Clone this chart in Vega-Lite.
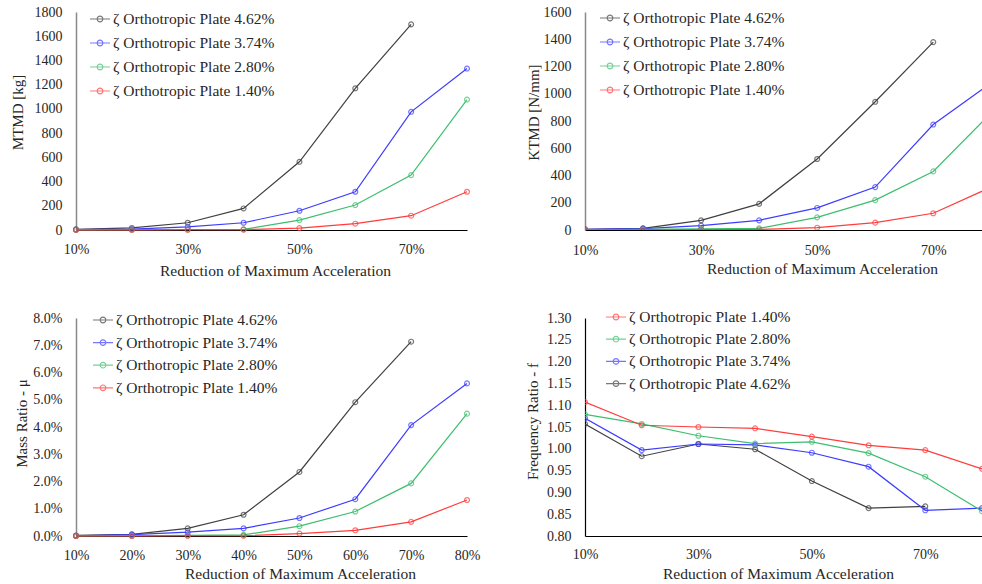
{
  "$schema": "https://vega.github.io/schema/vega-lite/v6.json",
  "padding": {"left": 10, "top": 5, "right": 0, "bottom": 0},
  "background": "white",
  "datasets": {
    "m": [
      {"x": 10, "s": "ζ Orthotropic Plate 4.62%", "v": 5}, {"x": 20, "s": "ζ Orthotropic Plate 4.62%", "v": 17}, {"x": 30, "s": "ζ Orthotropic Plate 4.62%", "v": 60}, {"x": 40, "s": "ζ Orthotropic Plate 4.62%", "v": 178}, {"x": 50, "s": "ζ Orthotropic Plate 4.62%", "v": 563}, {"x": 60, "s": "ζ Orthotropic Plate 4.62%", "v": 1170}, {"x": 70, "s": "ζ Orthotropic Plate 4.62%", "v": 1698},
      {"x": 10, "s": "ζ Orthotropic Plate 3.74%", "v": 3}, {"x": 20, "s": "ζ Orthotropic Plate 3.74%", "v": 8}, {"x": 30, "s": "ζ Orthotropic Plate 3.74%", "v": 25}, {"x": 40, "s": "ζ Orthotropic Plate 3.74%", "v": 60}, {"x": 50, "s": "ζ Orthotropic Plate 3.74%", "v": 159}, {"x": 60, "s": "ζ Orthotropic Plate 3.74%", "v": 316}, {"x": 70, "s": "ζ Orthotropic Plate 3.74%", "v": 976}, {"x": 80, "s": "ζ Orthotropic Plate 3.74%", "v": 1333},
      {"x": 10, "s": "ζ Orthotropic Plate 2.80%", "v": 1}, {"x": 20, "s": "ζ Orthotropic Plate 2.80%", "v": 2}, {"x": 30, "s": "ζ Orthotropic Plate 2.80%", "v": 4}, {"x": 40, "s": "ζ Orthotropic Plate 2.80%", "v": 5}, {"x": 50, "s": "ζ Orthotropic Plate 2.80%", "v": 82}, {"x": 60, "s": "ζ Orthotropic Plate 2.80%", "v": 206}, {"x": 70, "s": "ζ Orthotropic Plate 2.80%", "v": 453}, {"x": 80, "s": "ζ Orthotropic Plate 2.80%", "v": 1077},
      {"x": 10, "s": "ζ Orthotropic Plate 1.40%", "v": 0.5}, {"x": 20, "s": "ζ Orthotropic Plate 1.40%", "v": 1}, {"x": 30, "s": "ζ Orthotropic Plate 1.40%", "v": 2}, {"x": 40, "s": "ζ Orthotropic Plate 1.40%", "v": 3}, {"x": 50, "s": "ζ Orthotropic Plate 1.40%", "v": 16}, {"x": 60, "s": "ζ Orthotropic Plate 1.40%", "v": 52}, {"x": 70, "s": "ζ Orthotropic Plate 1.40%", "v": 118}, {"x": 80, "s": "ζ Orthotropic Plate 1.40%", "v": 316}
    ],
    "k": [
      {"x": 10, "s": "ζ Orthotropic Plate 4.62%", "v": 5}, {"x": 20, "s": "ζ Orthotropic Plate 4.62%", "v": 12}, {"x": 30, "s": "ζ Orthotropic Plate 4.62%", "v": 71}, {"x": 40, "s": "ζ Orthotropic Plate 4.62%", "v": 192}, {"x": 50, "s": "ζ Orthotropic Plate 4.62%", "v": 521}, {"x": 60, "s": "ζ Orthotropic Plate 4.62%", "v": 941}, {"x": 70, "s": "ζ Orthotropic Plate 4.62%", "v": 1379},
      {"x": 10, "s": "ζ Orthotropic Plate 3.74%", "v": 5}, {"x": 20, "s": "ζ Orthotropic Plate 3.74%", "v": 10}, {"x": 30, "s": "ζ Orthotropic Plate 3.74%", "v": 32}, {"x": 40, "s": "ζ Orthotropic Plate 3.74%", "v": 71}, {"x": 50, "s": "ζ Orthotropic Plate 3.74%", "v": 162}, {"x": 60, "s": "ζ Orthotropic Plate 3.74%", "v": 315}, {"x": 70, "s": "ζ Orthotropic Plate 3.74%", "v": 774}, {"x": 80, "s": "ζ Orthotropic Plate 3.74%", "v": 1080},
      {"x": 10, "s": "ζ Orthotropic Plate 2.80%", "v": 2}, {"x": 20, "s": "ζ Orthotropic Plate 2.80%", "v": 4}, {"x": 30, "s": "ζ Orthotropic Plate 2.80%", "v": 8}, {"x": 40, "s": "ζ Orthotropic Plate 2.80%", "v": 12}, {"x": 50, "s": "ζ Orthotropic Plate 2.80%", "v": 93}, {"x": 60, "s": "ζ Orthotropic Plate 2.80%", "v": 219}, {"x": 70, "s": "ζ Orthotropic Plate 2.80%", "v": 430}, {"x": 80, "s": "ζ Orthotropic Plate 2.80%", "v": 860},
      {"x": 10, "s": "ζ Orthotropic Plate 1.40%", "v": 0}, {"x": 20, "s": "ζ Orthotropic Plate 1.40%", "v": 2}, {"x": 30, "s": "ζ Orthotropic Plate 1.40%", "v": 3}, {"x": 40, "s": "ζ Orthotropic Plate 1.40%", "v": 4}, {"x": 50, "s": "ζ Orthotropic Plate 1.40%", "v": 17}, {"x": 60, "s": "ζ Orthotropic Plate 1.40%", "v": 54}, {"x": 70, "s": "ζ Orthotropic Plate 1.40%", "v": 123}, {"x": 80, "s": "ζ Orthotropic Plate 1.40%", "v": 315}
    ],
    "mu": [
      {"x": 10, "s": "ζ Orthotropic Plate 4.62%", "v": 0.02}, {"x": 20, "s": "ζ Orthotropic Plate 4.62%", "v": 0.06}, {"x": 30, "s": "ζ Orthotropic Plate 4.62%", "v": 0.28}, {"x": 40, "s": "ζ Orthotropic Plate 4.62%", "v": 0.78}, {"x": 50, "s": "ζ Orthotropic Plate 4.62%", "v": 2.35}, {"x": 60, "s": "ζ Orthotropic Plate 4.62%", "v": 4.91}, {"x": 70, "s": "ζ Orthotropic Plate 4.62%", "v": 7.13},
      {"x": 10, "s": "ζ Orthotropic Plate 3.74%", "v": 0.01}, {"x": 20, "s": "ζ Orthotropic Plate 3.74%", "v": 0.05}, {"x": 30, "s": "ζ Orthotropic Plate 3.74%", "v": 0.14}, {"x": 40, "s": "ζ Orthotropic Plate 3.74%", "v": 0.28}, {"x": 50, "s": "ζ Orthotropic Plate 3.74%", "v": 0.66}, {"x": 60, "s": "ζ Orthotropic Plate 3.74%", "v": 1.35}, {"x": 70, "s": "ζ Orthotropic Plate 3.74%", "v": 4.07}, {"x": 80, "s": "ζ Orthotropic Plate 3.74%", "v": 5.6},
      {"x": 10, "s": "ζ Orthotropic Plate 2.80%", "v": 0.0}, {"x": 20, "s": "ζ Orthotropic Plate 2.80%", "v": 0.01}, {"x": 30, "s": "ζ Orthotropic Plate 2.80%", "v": 0.02}, {"x": 40, "s": "ζ Orthotropic Plate 2.80%", "v": 0.04}, {"x": 50, "s": "ζ Orthotropic Plate 2.80%", "v": 0.36}, {"x": 60, "s": "ζ Orthotropic Plate 2.80%", "v": 0.9}, {"x": 70, "s": "ζ Orthotropic Plate 2.80%", "v": 1.93}, {"x": 80, "s": "ζ Orthotropic Plate 2.80%", "v": 4.49},
      {"x": 10, "s": "ζ Orthotropic Plate 1.40%", "v": 0.0}, {"x": 20, "s": "ζ Orthotropic Plate 1.40%", "v": 0.0}, {"x": 30, "s": "ζ Orthotropic Plate 1.40%", "v": 0.01}, {"x": 40, "s": "ζ Orthotropic Plate 1.40%", "v": 0.01}, {"x": 50, "s": "ζ Orthotropic Plate 1.40%", "v": 0.09}, {"x": 60, "s": "ζ Orthotropic Plate 1.40%", "v": 0.21}, {"x": 70, "s": "ζ Orthotropic Plate 1.40%", "v": 0.52}, {"x": 80, "s": "ζ Orthotropic Plate 1.40%", "v": 1.32}
    ],
    "f": [
      {"x": 10, "s": "ζ Orthotropic Plate 4.62%", "v": 1.057}, {"x": 20, "s": "ζ Orthotropic Plate 4.62%", "v": 0.983}, {"x": 30, "s": "ζ Orthotropic Plate 4.62%", "v": 1.011}, {"x": 40, "s": "ζ Orthotropic Plate 4.62%", "v": 0.999}, {"x": 50, "s": "ζ Orthotropic Plate 4.62%", "v": 0.926}, {"x": 60, "s": "ζ Orthotropic Plate 4.62%", "v": 0.864}, {"x": 70, "s": "ζ Orthotropic Plate 4.62%", "v": 0.868},
      {"x": 10, "s": "ζ Orthotropic Plate 3.74%", "v": 1.070}, {"x": 20, "s": "ζ Orthotropic Plate 3.74%", "v": 0.997}, {"x": 30, "s": "ζ Orthotropic Plate 3.74%", "v": 1.011}, {"x": 40, "s": "ζ Orthotropic Plate 3.74%", "v": 1.009}, {"x": 50, "s": "ζ Orthotropic Plate 3.74%", "v": 0.991}, {"x": 60, "s": "ζ Orthotropic Plate 3.74%", "v": 0.959}, {"x": 70, "s": "ζ Orthotropic Plate 3.74%", "v": 0.859}, {"x": 80, "s": "ζ Orthotropic Plate 3.74%", "v": 0.864},
      {"x": 10, "s": "ζ Orthotropic Plate 2.80%", "v": 1.079}, {"x": 20, "s": "ζ Orthotropic Plate 2.80%", "v": 1.057}, {"x": 30, "s": "ζ Orthotropic Plate 2.80%", "v": 1.030}, {"x": 40, "s": "ζ Orthotropic Plate 2.80%", "v": 1.012}, {"x": 50, "s": "ζ Orthotropic Plate 2.80%", "v": 1.016}, {"x": 60, "s": "ζ Orthotropic Plate 2.80%", "v": 0.990}, {"x": 70, "s": "ζ Orthotropic Plate 2.80%", "v": 0.936}, {"x": 80, "s": "ζ Orthotropic Plate 2.80%", "v": 0.857},
      {"x": 10, "s": "ζ Orthotropic Plate 1.40%", "v": 1.107}, {"x": 20, "s": "ζ Orthotropic Plate 1.40%", "v": 1.054}, {"x": 30, "s": "ζ Orthotropic Plate 1.40%", "v": 1.050}, {"x": 40, "s": "ζ Orthotropic Plate 1.40%", "v": 1.047}, {"x": 50, "s": "ζ Orthotropic Plate 1.40%", "v": 1.028}, {"x": 60, "s": "ζ Orthotropic Plate 1.40%", "v": 1.008}, {"x": 70, "s": "ζ Orthotropic Plate 1.40%", "v": 0.997}, {"x": 80, "s": "ζ Orthotropic Plate 1.40%", "v": 0.954}
    ]
  },
  "columns": 2,
  "bounds": "flush",
  "spacing": {"row": 88, "column": 118},
  "resolve": {"scale": {"color": "independent", "x": "independent", "y": "independent"}, "legend": {"color": "independent"}},
  "concat": [
    {
      "width": 391, "height": 218,
      "data": {"name": "m"},
      "encoding": {
        "x": {"field": "x", "type": "quantitative", "scale": {"domain": [10, 80], "nice": false, "zero": false},
          "axis": {"values": [10, 30, 50, 70], "labelExpr": "datum.value + '%'", "title": "Reduction of Maximum Acceleration", "titleX": 199, "titleY": 40, "titleBaseline": "middle", "labelPadding": 12}},
        "y": {"field": "v", "type": "quantitative", "scale": {"domain": [0, 1800], "nice": false},
          "axis": {"values": [0, 200, 400, 600, 800, 1000, 1200, 1400, 1600, 1800], "format": "d", "title": "MTMD [kg]", "titleX": -59, "titleY": 100, "titleBaseline": "middle", "titleAlign": "center", "titleFontSize": 15, "domainColor": "#888888", "domainWidth": 1.5}},
        "color": {"field": "s", "type": "nominal",
          "scale": {"domain": ["ζ Orthotropic Plate 4.62%", "ζ Orthotropic Plate 3.74%", "ζ Orthotropic Plate 2.80%", "ζ Orthotropic Plate 1.40%"], "range": ["#404040", "#3c3cff", "#3dbe6e", "#ff3c3c"]},
          "legend": {"legendX": 13, "legendY": -4, "rowPadding": 4}}
      },
      "layer": [
        {"mark": {"type": "line", "strokeWidth": 1.2}},
        {"mark": {"type": "point", "filled": false, "size": 24, "strokeWidth": 1.2}}
      ]
    },
    {
      "width": 397, "height": 218,
      "data": {"name": "k"},
      "encoding": {
        "x": {"field": "x", "type": "quantitative", "scale": {"domain": [10, 78.4], "nice": false, "zero": false},
          "axis": {"values": [10, 30, 50, 70], "labelExpr": "datum.value + '%'", "title": "Reduction of Maximum Acceleration", "titleX": 237, "titleY": 38, "titleBaseline": "middle", "labelPadding": 13}},
        "y": {"field": "v", "type": "quantitative", "scale": {"domain": [0, 1600], "nice": false},
          "axis": {"values": [0, 200, 400, 600, 800, 1000, 1200, 1400, 1600], "format": "d", "title": "KTMD [N/mm]", "titleX": -52, "titleY": 100, "titleBaseline": "middle", "titleAlign": "center", "titleFontSize": 15, "domainColor": "#888888", "domainWidth": 1.5}},
        "color": {"field": "s", "type": "nominal",
          "scale": {"domain": ["ζ Orthotropic Plate 4.62%", "ζ Orthotropic Plate 3.74%", "ζ Orthotropic Plate 2.80%", "ζ Orthotropic Plate 1.40%"], "range": ["#404040", "#3c3cff", "#3dbe6e", "#ff3c3c"]},
          "legend": {"legendX": 14, "legendY": -5, "rowPadding": 4}}
      },
      "layer": [
        {"mark": {"type": "line", "strokeWidth": 1.2, "clip": true}},
        {"mark": {"type": "point", "filled": false, "size": 24, "strokeWidth": 1.2, "clip": true}}
      ]
    },
    {
      "width": 391, "height": 218,
      "data": {"name": "mu"},
      "encoding": {
        "x": {"field": "x", "type": "quantitative", "scale": {"domain": [10, 80], "nice": false, "zero": false},
          "axis": {"values": [10, 20, 30, 40, 50, 60, 70, 80], "labelExpr": "datum.value + '%'", "title": "Reduction of Maximum Acceleration", "titleX": 224, "titleY": 37, "titleBaseline": "middle", "labelPadding": 12}},
        "y": {"field": "v", "type": "quantitative", "scale": {"domain": [0, 8], "nice": false},
          "axis": {"values": [0, 1, 2, 3, 4, 5, 6, 7, 8], "labelExpr": "format(datum.value, '.1f') + '%'", "title": "Mass Ratio - μ", "titleX": -55, "titleY": 105, "titleBaseline": "middle", "titleAlign": "center", "titleFontSize": 15, "domainColor": "#888888", "domainWidth": 1.5}},
        "color": {"field": "s", "type": "nominal",
          "scale": {"domain": ["ζ Orthotropic Plate 4.62%", "ζ Orthotropic Plate 3.74%", "ζ Orthotropic Plate 2.80%", "ζ Orthotropic Plate 1.40%"], "range": ["#404040", "#3c3cff", "#3dbe6e", "#ff3c3c"]},
          "legend": {"legendX": 16, "legendY": -9, "rowPadding": 2.6}}
      },
      "layer": [
        {"mark": {"type": "line", "strokeWidth": 1.2}},
        {"mark": {"type": "point", "filled": false, "size": 24, "strokeWidth": 1.2}}
      ]
    },
    {
      "width": 397, "height": 218,
      "data": {"name": "f"},
      "encoding": {
        "x": {"field": "x", "type": "quantitative", "scale": {"domain": [10, 80], "nice": false, "zero": false},
          "axis": {"values": [10, 30, 50, 70], "labelExpr": "datum.value + '%'", "title": "Reduction of Maximum Acceleration", "titleX": 193, "titleY": 37, "titleBaseline": "middle", "labelPadding": 11}},
        "y": {"field": "v", "type": "quantitative", "scale": {"domain": [0.8, 1.3], "nice": false, "zero": false},
          "axis": {"values": [0.8, 0.85, 0.9, 0.95, 1.0, 1.05, 1.1, 1.15, 1.2, 1.25, 1.3], "format": ".2f", "title": "Frequency Ratio - f", "titleX": -53, "titleY": 103, "titleBaseline": "middle", "titleAlign": "center", "titleFontSize": 15, "domainColor": "#000000", "domainWidth": 1.2}},
        "color": {"field": "s", "type": "nominal",
          "scale": {"domain": ["ζ Orthotropic Plate 1.40%", "ζ Orthotropic Plate 2.80%", "ζ Orthotropic Plate 3.74%", "ζ Orthotropic Plate 4.62%"], "range": ["#ff3c3c", "#3dbe6e", "#3c3cff", "#404040"]},
          "legend": {"legendX": 20, "legendY": -12, "rowPadding": 2.2}}
      },
      "layer": [
        {"mark": {"type": "line", "strokeWidth": 1.2, "clip": true}},
        {"mark": {"type": "point", "filled": false, "size": 24, "strokeWidth": 1.2, "clip": true}}
      ]
    }
  ],
  "config": {
    "font": "Liberation Serif",
    "view": {"stroke": null},
    "axis": {
      "grid": false, "ticks": false, "labelPadding": 14,
      "labelFont": "Liberation Serif", "labelFontSize": 14, "labelColor": "#262626",
      "titleFont": "Liberation Serif", "titleFontSize": 15.5, "titleFontWeight": "normal", "titleColor": "#262626",
      "domainColor": "#000000", "domainWidth": 1.2, "labelFlush": false, "labelOverlap": false
    },
    "legend": {
      "orient": "none", "title": null, "padding": 0,
      "symbolType": "M-1,0H1M0.28,0A0.28,0.28,0,1,1,-0.28,0A0.28,0.28,0,1,1,0.28,0",
      "symbolSize": 400, "symbolStrokeWidth": 1.2,
      "labelFont": "Liberation Serif", "labelFontSize": 15.5, "labelColor": "#262626",
      "labelOffset": 2, "rowPadding": 4, "labelLimit": 300
    }
  }
}
